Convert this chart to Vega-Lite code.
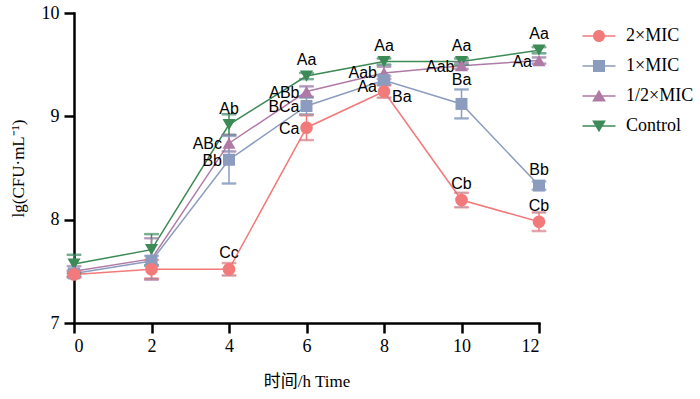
{
  "$schema": "https://vega.github.io/schema/vega-lite/v6.json",
  "width": 465,
  "height": 310,
  "autosize": {"type": "none"},
  "padding": {"left": 74, "top": 13, "right": 161, "bottom": 76},
  "background": "white",
  "config": {
    "view": {"stroke": null},
    "font": "Liberation Serif",
    "axis": {
      "grid": false,
      "domainColor": "black", "domainWidth": 2.5, "domainCap": "square",
      "tickColor": "black", "tickWidth": 2.5, "tickSize": 10,
      "labelFont": "Liberation Serif", "labelFontSize": 18, "labelColor": "black",
      "titleFont": "Liberation Serif, Noto Sans CJK SC", "titleFontSize": 17, "titleFontWeight": "normal", "titleColor": "black"
    },
    "axisX": {"labelPadding": 4, "titlePadding": 18},
    "axisY": {"labelPadding": 5, "titlePadding": 14},
    "legend": {
      "labelFont": "Liberation Serif", "labelFontSize": 18, "labelColor": "black",
      "symbolSize": 144, "labelOffset": 18, "rowPadding": 12, "padding": 0, "symbolStrokeWidth": 0
    }
  },
  "datasets": {
    "pts": [
      {"series": "Control", "time": 0, "value": 7.57, "err": 0.09},
      {"series": "Control", "time": 2, "value": 7.71, "err": 0.15},
      {"series": "Control", "time": 4, "value": 8.92, "err": 0.10},
      {"series": "Control", "time": 6, "value": 9.39, "err": 0.03},
      {"series": "Control", "time": 8, "value": 9.53, "err": 0.03},
      {"series": "Control", "time": 10, "value": 9.53, "err": 0.03},
      {"series": "Control", "time": 12, "value": 9.64, "err": 0.03},
      {"series": "1/2×MIC", "time": 0, "value": 7.50, "err": 0.05},
      {"series": "1/2×MIC", "time": 2, "value": 7.62, "err": 0.20},
      {"series": "1/2×MIC", "time": 4, "value": 8.74, "err": 0.08},
      {"series": "1/2×MIC", "time": 6, "value": 9.24, "err": 0.05},
      {"series": "1/2×MIC", "time": 8, "value": 9.42, "err": 0.06},
      {"series": "1/2×MIC", "time": 10, "value": 9.49, "err": 0.03},
      {"series": "1/2×MIC", "time": 12, "value": 9.54, "err": 0.03},
      {"series": "1×MIC", "time": 0, "value": 7.48, "err": 0.03},
      {"series": "1×MIC", "time": 2, "value": 7.60, "err": 0.05},
      {"series": "1×MIC", "time": 4, "value": 8.58, "err": 0.23},
      {"series": "1×MIC", "time": 6, "value": 9.10, "err": 0.08},
      {"series": "1×MIC", "time": 8, "value": 9.35, "err": 0.04},
      {"series": "1×MIC", "time": 10, "value": 9.12, "err": 0.14},
      {"series": "1×MIC", "time": 12, "value": 8.33, "err": 0.04},
      {"series": "2×MIC", "time": 0, "value": 7.47, "err": 0.03},
      {"series": "2×MIC", "time": 2, "value": 7.52, "err": 0.09},
      {"series": "2×MIC", "time": 4, "value": 7.52, "err": 0.06},
      {"series": "2×MIC", "time": 6, "value": 8.89, "err": 0.12},
      {"series": "2×MIC", "time": 8, "value": 9.24, "err": 0.06},
      {"series": "2×MIC", "time": 10, "value": 8.19, "err": 0.07},
      {"series": "2×MIC", "time": 12, "value": 7.98, "err": 0.09}
    ],
    "labels": [
      {"time": 4, "value": 8.92, "label": "Ab", "place": "above"},
      {"time": 4, "value": 8.74, "label": "ABc", "place": "left"},
      {"time": 4, "value": 8.58, "label": "Bb", "place": "left"},
      {"time": 4, "value": 7.52, "label": "Cc", "place": "above"},
      {"time": 6, "value": 9.39, "label": "Aa", "place": "above"},
      {"time": 6, "value": 9.24, "label": "ABb", "place": "left"},
      {"time": 6, "value": 9.10, "label": "BCa", "place": "left"},
      {"time": 6, "value": 8.89, "label": "Ca", "place": "left"},
      {"time": 8, "value": 9.53, "label": "Aa", "place": "above"},
      {"time": 8, "value": 9.43, "label": "Aab", "place": "left"},
      {"time": 8, "value": 9.29, "label": "Aa", "place": "left"},
      {"time": 8, "value": 9.24, "label": "Ba", "place": "right"},
      {"time": 10, "value": 9.53, "label": "Aa", "place": "above"},
      {"time": 10, "value": 9.49, "label": "Aab", "place": "left"},
      {"time": 10, "value": 9.20, "label": "Ba", "place": "above"},
      {"time": 10, "value": 8.19, "label": "Cb", "place": "above"},
      {"time": 12, "value": 9.64, "label": "Aa", "place": "above"},
      {"time": 12, "value": 9.54, "label": "Aa", "place": "left"},
      {"time": 12, "value": 8.33, "label": "Bb", "place": "above"},
      {"time": 12, "value": 7.98, "label": "Cb", "place": "above"}
    ]
  },
  "encoding": {
    "x": {
      "field": "time", "type": "quantitative",
      "scale": {"domain": [0, 12], "nice": false, "zero": false},
      "axis": {"values": [0, 2, 4, 6, 8, 10, 12], "format": "d", "title": "时间/h Time"}
    },
    "y": {
      "field": "value", "type": "quantitative",
      "scale": {"domain": [7, 10], "nice": false, "zero": false},
      "axis": {"values": [7, 8, 9, 10], "format": "d", "title": "lg(CFU·mL⁻¹)"}
    }
  },
  "layer": [
    {
      "data": {"name": "pts"},
      "mark": {"type": "line", "strokeWidth": 1.5},
      "encoding": {
        "stroke": {"field": "series", "type": "nominal",
          "scale": {"domain": ["Control", "1/2×MIC", "1×MIC", "2×MIC"], "range": ["#3C8A55", "#B07AA6", "#8C9CBF", "#F27A7A"]},
          "legend": null}
      }
    },
    {
      "data": {"name": "pts"},
      "mark": {"type": "errorbar", "thickness": 1.5, "ticks": {"size": 14, "thickness": 1.5}},
      "encoding": {
        "yError": {"field": "err"},
        "stroke": {"field": "series", "type": "nominal", "legend": null}
      }
    },
    {
      "data": {"name": "pts"},
      "transform": [{"filter": "datum.series == 'Control'"}],
      "mark": {"type": "point", "shape": "triangle-down", "filled": true, "opacity": 1, "size": 170},
      "encoding": {"fill": {"field": "series", "type": "nominal",
        "scale": {"domain": ["Control", "1/2×MIC", "1×MIC", "2×MIC"], "range": ["#3C8A55", "#B07AA6", "#8C9CBF", "#F27A7A"]},
        "legend": null}}
    },
    {
      "data": {"name": "pts"},
      "transform": [{"filter": "datum.series == '1/2×MIC'"}],
      "mark": {"type": "point", "shape": "triangle-up", "filled": true, "opacity": 1, "size": 170},
      "encoding": {"fill": {"field": "series", "type": "nominal", "legend": null}}
    },
    {
      "data": {"name": "pts"},
      "transform": [{"filter": "datum.series == '1×MIC'"}],
      "mark": {"type": "point", "shape": "square", "filled": true, "opacity": 1, "size": 144},
      "encoding": {"fill": {"field": "series", "type": "nominal", "legend": null}}
    },
    {
      "data": {"name": "pts"},
      "transform": [{"filter": "datum.series == '2×MIC'"}],
      "mark": {"type": "point", "shape": "circle", "filled": true, "opacity": 1, "size": 160},
      "encoding": {"fill": {"field": "series", "type": "nominal", "legend": null}}
    },
    {
      "data": {"name": "pts"},
      "transform": [{"filter": "datum.time < 0"}],
      "mark": {"type": "point", "filled": true, "opacity": 1},
      "encoding": {
        "color": {"field": "series", "type": "nominal",
          "scale": {"domain": ["2×MIC", "1×MIC", "1/2×MIC", "Control"], "range": ["#F27A7A", "#8C9CBF", "#B07AA6", "#3C8A55"]},
          "legend": {"title": null, "orient": "none", "legendX": 516, "legendY": 14}},
        "shape": {"field": "series", "type": "nominal",
          "scale": {"domain": ["2×MIC", "1×MIC", "1/2×MIC", "Control"],
            "range": [
              "M-2.75,-0.12H2.75V0.12H-2.75Z M1,0A1,1,0,1,1,-1,0A1,1,0,1,1,1,0Z",
              "M-2.75,-0.12H2.75V0.12H-2.75Z M-1,-1H1V1H-1Z",
              "M-2.75,-0.12H2.75V0.12H-2.75Z M0,-1.05L1.15,0.9H-1.15Z",
              "M-2.75,-0.12H2.75V0.12H-2.75Z M-1.15,-0.9H1.15L0,1.05Z"
            ]},
          "legend": {"title": null, "orient": "none", "legendX": 516, "legendY": 14}}
      }
    },
    {
      "data": {"name": "labels"},
      "transform": [{"filter": "datum.place == 'above'"}],
      "mark": {"type": "text", "font": "Liberation Sans", "fontSize": 16, "color": "black", "align": "center", "baseline": "middle", "dy": -16},
      "encoding": {"text": {"field": "label"}}
    },
    {
      "data": {"name": "labels"},
      "transform": [{"filter": "datum.place == 'left'"}],
      "mark": {"type": "text", "font": "Liberation Sans", "fontSize": 16, "color": "black", "align": "right", "baseline": "middle", "dx": -7, "dy": 1},
      "encoding": {"text": {"field": "label"}}
    },
    {
      "data": {"name": "labels"},
      "transform": [{"filter": "datum.place == 'right'"}],
      "mark": {"type": "text", "font": "Liberation Sans", "fontSize": 16, "color": "black", "align": "left", "baseline": "middle", "dx": 8, "dy": 5},
      "encoding": {"text": {"field": "label"}}
    }
  ]
}
